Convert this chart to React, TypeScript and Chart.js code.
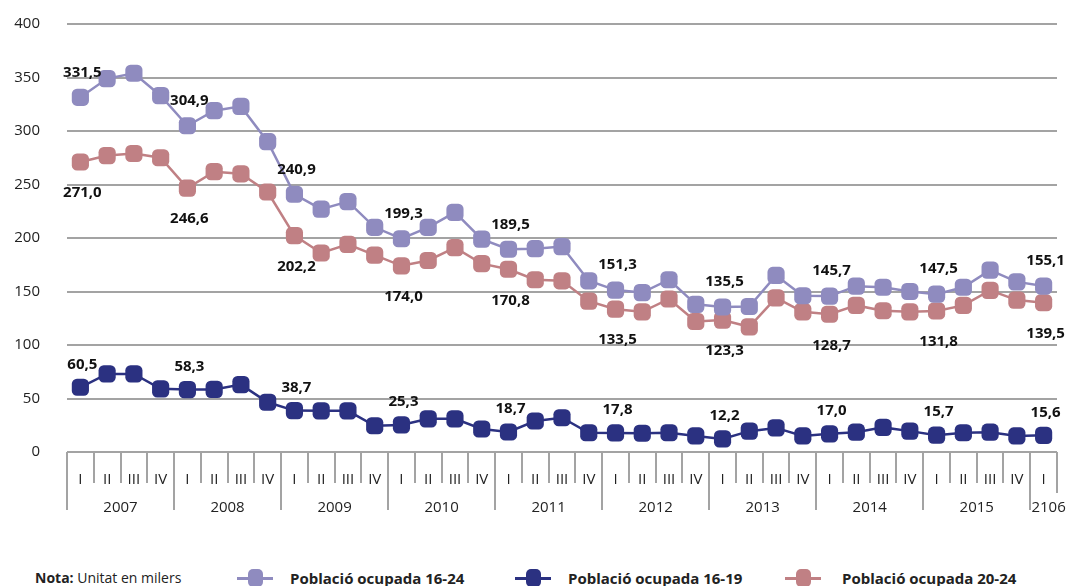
import React, { useEffect, useRef } from "react";
import { Chart, registerables } from "chart.js";

Chart.register(...registerables);

const quarterLabels = [
  "I", "II", "III", "IV", "I", "II", "III", "IV", "I", "II", "III", "IV",
  "I", "II", "III", "IV", "I", "II", "III", "IV", "I", "II", "III", "IV",
  "I", "II", "III", "IV", "I", "II", "III", "IV", "I", "II", "III", "IV", "I",
];
const yearLabels = ["2007", "2008", "2009", "2010", "2011", "2012", "2013", "2014", "2015", "2106"];

const pob1624 = [
  331.5, 349, 354, 333, 304.9, 319, 323, 290, 240.9, 227, 234, 210, 199.3, 210, 224, 199,
  189.5, 190, 192, 160, 151.3, 149, 161, 138, 135.5, 136, 165, 146, 145.7, 155, 154, 150,
  147.5, 154, 170, 159, 155.1,
];
const pob1619 = [
  60.5, 73, 73, 59, 58.3, 58.5, 63, 46.5, 38.7, 38.5, 38.5, 24.5, 25.3, 31, 31, 21.5,
  18.7, 29, 32, 18, 17.8, 17.5, 18, 15, 12.2, 19.5, 22.5, 15, 17.0, 18.5, 23, 19.5,
  15.7, 18, 18.5, 15, 15.6,
];
const pob2024 = [
  271.0, 277, 279, 275, 246.6, 262, 260, 243, 202.2, 186, 194, 184, 174.0, 179, 191, 176,
  170.8, 161, 160, 141, 133.5, 131, 143, 122, 123.3, 117, 144, 131, 128.7, 137, 132, 131,
  131.8, 137, 151, 142, 139.5,
];

const seriesNames = ["Població ocupada 16-24", "Població ocupada 16-19", "Població ocupada 20-24"];
const seriesColors = ["#8f8bbf", "#2b3181", "#c08084"];
const labelOffsets = [-25, -23, 31];

const FONT = "'Open Sans', 'Noto Sans', sans-serif";
const AXIS_GRAY = "#a3a3a3";

const axisPlugin = {
  id: "customAxis",
  afterDraw(chart: any) {
    const ctx = chart.ctx;
    const xs = chart.scales.x;
    const area = chart.chartArea;
    const n = quarterLabels.length;
    const w = xs.getPixelForValue(1) - xs.getPixelForValue(0);
    const start = xs.getPixelForValue(0) - w / 2;
    const base = area.bottom;
    ctx.save();
    ctx.strokeStyle = AXIS_GRAY;
    ctx.lineWidth = 2;
    ctx.beginPath();
    ctx.moveTo(start, base);
    ctx.lineTo(start + n * w, base);
    ctx.stroke();
    for (let k = 0; k <= n; k++) {
      const x = Math.round(start + k * w);
      let len = 31;
      if (k % 4 === 0) len = 58;
      if (k === n) len = 41;
      ctx.beginPath();
      ctx.moveTo(x, base);
      ctx.lineTo(x, base + len);
      ctx.stroke();
    }
    ctx.fillStyle = "#222";
    ctx.font = `15px ${FONT}`;
    ctx.textAlign = "center";
    ctx.textBaseline = "middle";
    yearLabels.forEach((yl, j) => {
      const a = start + j * 4 * w;
      const b = start + Math.min(j * 4 + 4, n) * w;
      let cx = (a + b) / 2;
      if (j === yearLabels.length - 1) cx += 5;
      ctx.fillText(yl, cx, base + 56);
    });
    ctx.restore();
  },
  afterDatasetsDraw(chart: any) {
    const ctx = chart.ctx;
    ctx.save();
    ctx.font = `bold 15px ${FONT}`;
    ctx.fillStyle = "#111";
    ctx.textAlign = "center";
    ctx.textBaseline = "middle";
    chart.data.datasets.forEach((ds: any, di: number) => {
      const meta = chart.getDatasetMeta(di);
      meta.data.forEach((pt: any, i: number) => {
        if (i % 4 !== 0) return;
        const v = ds.data[i] as number;
        const txt = v.toFixed(1).replace(".", ",");
        ctx.fillText(txt, pt.x + 2, pt.y + labelOffsets[di]);
      });
    });
    ctx.restore();
  },
};

export default function App() {
  const ref = useRef<HTMLCanvasElement | null>(null);
  useEffect(() => {
    if (!ref.current) return;
    const values = [pob1624, pob1619, pob2024];
    const chart = new Chart(ref.current, {
      type: "line",
      data: {
        labels: quarterLabels,
        datasets: values.map((d, i) => ({
          label: seriesNames[i],
          data: d,
          borderColor: seriesColors[i],
          backgroundColor: seriesColors[i],
          borderWidth: 2.5,
          pointStyle: "rectRounded",
          pointRadius: 10,
          pointBorderWidth: 0,
          pointBackgroundColor: seriesColors[i],
          tension: 0,
        })),
      },
      options: {
        responsive: false,
        animation: false,
        maintainAspectRatio: false,
        layout: { padding: { left: 0, right: 11, top: 24, bottom: 0 } },
        plugins: { legend: { display: false }, tooltip: { enabled: false } },
        scales: {
          x: {
            type: "category",
            offset: true,
            grid: { display: false },
            border: { display: false },
            ticks: {
              autoSkip: false,
              maxRotation: 0,
              padding: 11,
              color: "#222",
              font: { family: FONT, size: 15 },
            },
            afterFit: (s: any) => {
              s.height = 78;
            },
          },
          y: {
            min: 0,
            max: 400,
            ticks: {
              stepSize: 50,
              padding: 0,
              color: "#222",
              font: { family: FONT, size: 15 },
            },
            grid: {
              drawTicks: true,
              tickLength: 27,
              tickColor: "rgba(0,0,0,0)",
              lineWidth: 2,
              color: (c: any) => (c.tick && c.tick.value === 0 ? "rgba(0,0,0,0)" : AXIS_GRAY),
            },
            border: { display: false },
            afterFit: (s: any) => {
              s.width = 67;
            },
          },
        },
      },
      plugins: [axisPlugin],
    });
    return () => chart.destroy();
  }, []);

  const legendItems = [
    { sym: 237, txt: 290 },
    { sym: 515, txt: 568 },
    { sym: 785, txt: 842 },
  ];

  return (
    <div style={{ position: "absolute", left: 0, top: 0, width: 1068, height: 586, overflow: "hidden", background: "#fff", fontFamily: FONT }}>
      <canvas ref={ref} width={1068} height={530} style={{ position: "absolute", left: 0, top: 0, width: 1068, height: 530 }} />
      <div style={{ position: "absolute", left: 35, top: 568, fontSize: 14, color: "#222", lineHeight: "20px", whiteSpace: "nowrap" }}>
        <b>Nota:</b> Unitat en milers
      </div>
      {legendItems.map((it, i) => (
        <React.Fragment key={i}>
          <div style={{ position: "absolute", left: it.sym, top: 577, width: 36, height: 3, background: seriesColors[i] }} />
          <div style={{ position: "absolute", left: it.sym + 11, top: 569, width: 15, height: 18, borderRadius: 5, background: seriesColors[i] }} />
          <div style={{ position: "absolute", left: it.txt, top: 568, fontSize: 15, fontWeight: 700, color: "#222", lineHeight: "20px", whiteSpace: "nowrap" }}>
            {seriesNames[i]}
          </div>
        </React.Fragment>
      ))}
    </div>
  );
}
